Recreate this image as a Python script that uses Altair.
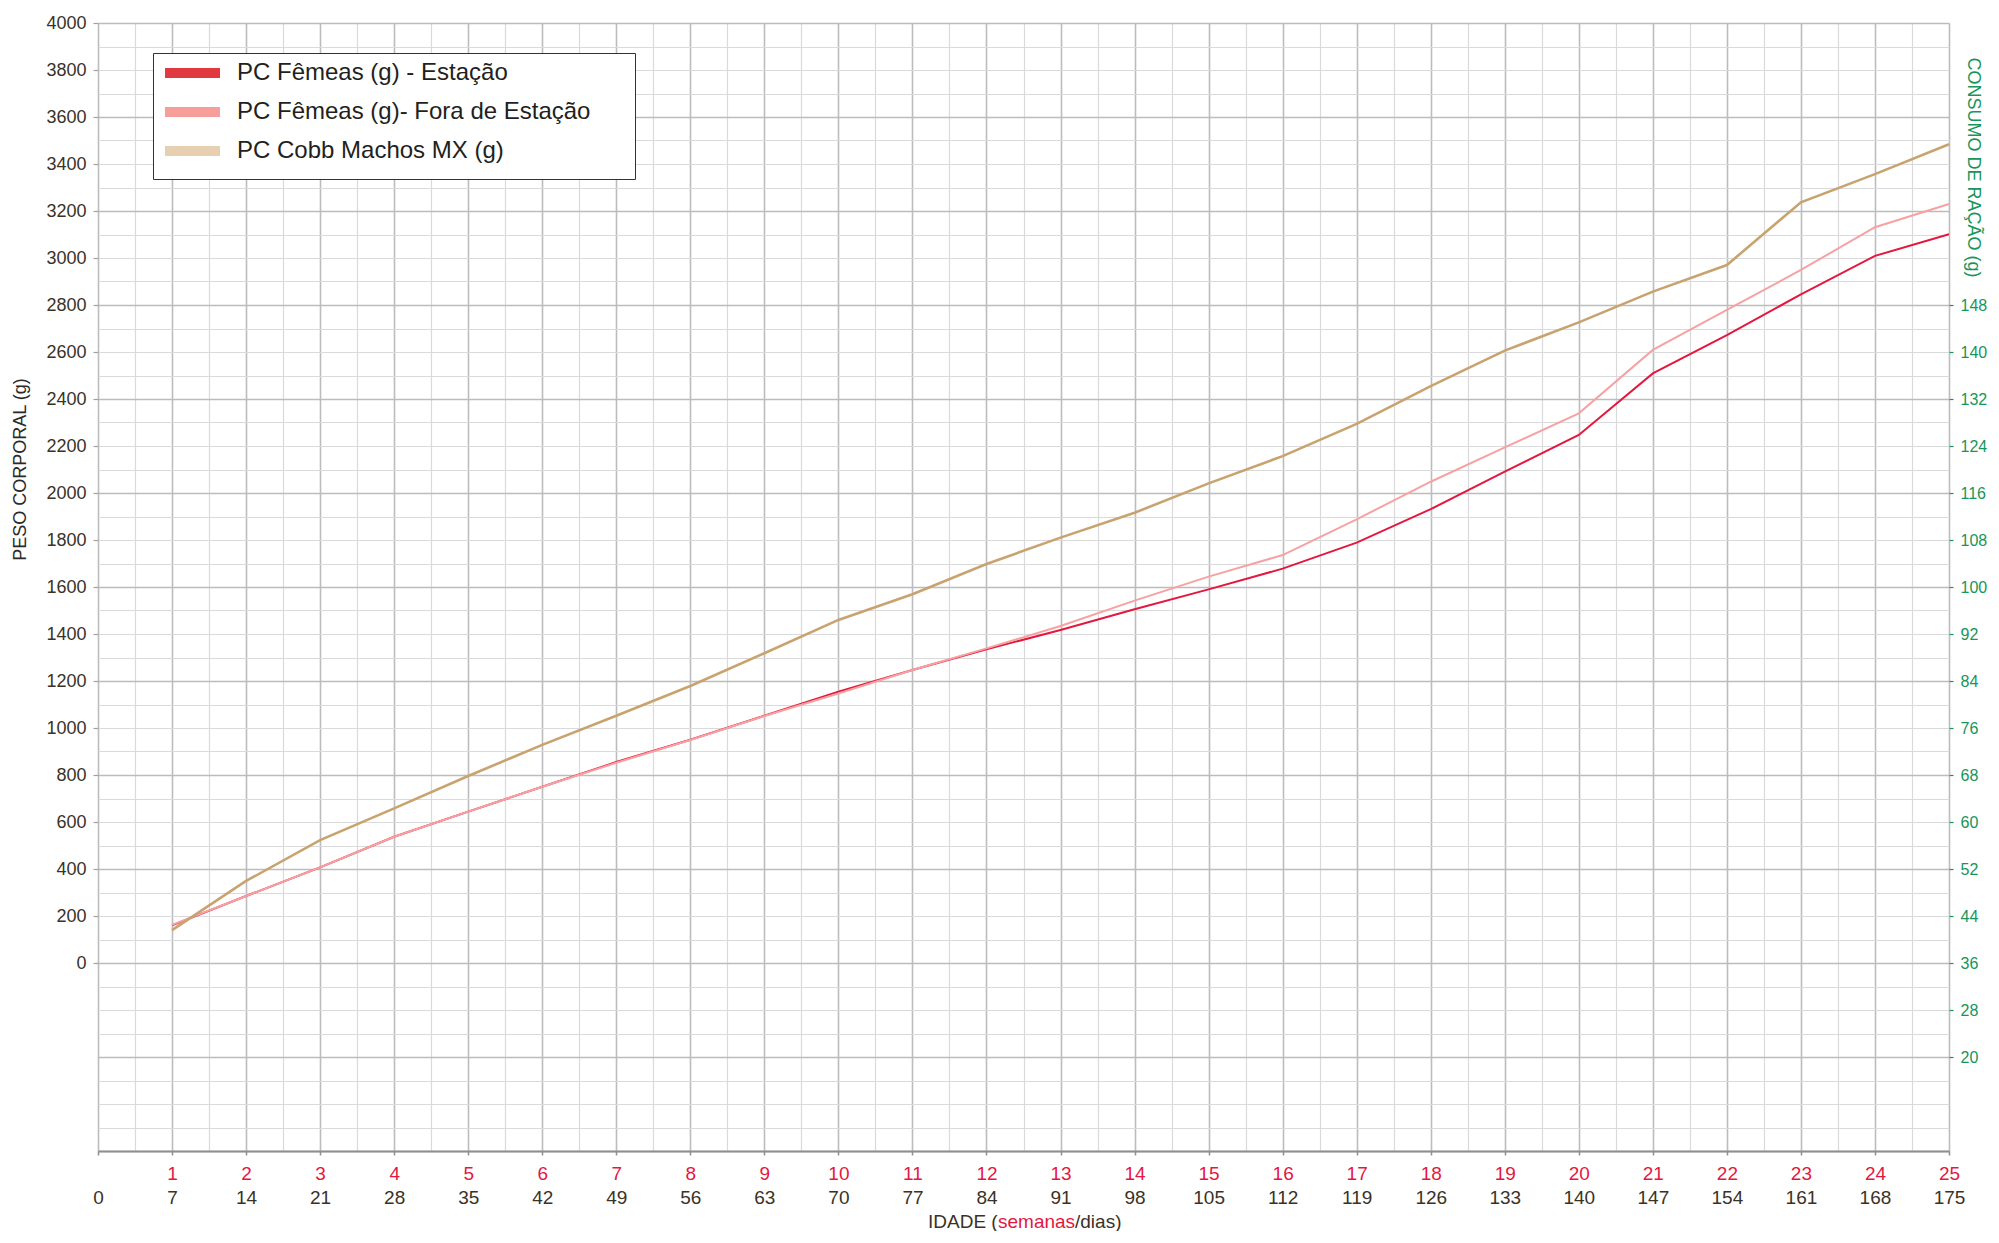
import altair as alt
import pandas as pd

# ---------------- data ----------------
WEEKS = list(range(1, 26))
SERIES = [
    "PC Fêmeas (g) - Estação",
    "PC Fêmeas (g)- Fora de Estação",
    "PC Cobb Machos MX (g)",
]
FEMEAS_ESTACAO = [160, 285, 407, 537, 644, 750, 855, 950, 1052, 1154, 1247, 1335, 1417,
                  1505, 1590, 1678, 1789, 1931, 2091, 2247, 2509, 2672, 2845, 3009, 3101]
FEMEAS_FORA = [162, 285, 407, 537, 644, 750, 852, 949, 1051, 1147, 1247, 1339, 1434,
               1542, 1644, 1736, 1888, 2048, 2194, 2339, 2609, 2779, 2949, 3131, 3230]
MACHOS_MX = [140, 349, 523, 658, 796, 928, 1052, 1179, 1318, 1460, 1569, 1698, 1810,
             1916, 2041, 2157, 2294, 2455, 2606, 2726, 2857, 2970, 3237, 3357, 3484]

DAY_AXIS_WEEKS = list(range(0, 26))          # 0, 7, ..., 175 days
LEFT_TICKS = list(range(0, 4001, 200))
RIGHT_TICKS = list(range(20, 149, 8))        # consumo de ração (g)
GRID_X = [i / 2 for i in range(0, 51)]
GRID_Y = list(range(-800, 4001, 100))
TITLE_PARTS = ["IDADE (", "semanas", "/dias)"]

# right axis: 36 g <-> 0 g peso, 1 g ração = 25 g peso
RIGHT_BASE, RIGHT_FACTOR = 36, 25
RIGHT_POS = [(r - RIGHT_BASE) * RIGHT_FACTOR for r in RIGHT_TICKS]

# ---------------- style ----------------
FONT = "Liberation Sans"
DARK = "#3a3226"
RED = "#e5173f"
GREEN = "#17955a"
MAJOR = "#bcbcc0"
MINOR = "#dadadc"
LINE_COLORS = ["#e4173e", "#f7a2a2", "#c9a36f"]
LINE_WIDTHS = [2.0, 2.0, 2.6]
SWATCH_COLORS = ["#e2383f", "#f59e9a", "#e6d0b1"]

W, H = 1851, 1128

rows = []
for name, vals in zip(SERIES, [FEMEAS_ESTACAO, FEMEAS_FORA, MACHOS_MX]):
    for w, v in zip(WEEKS, vals):
        rows.append({"series": name, "week": w, "value": v})
df = pd.DataFrame(rows)

xs = alt.Scale(domain=[0, 25], nice=False, zero=False)
ys = alt.Scale(domain=[-800, 4000], nice=False, zero=False)

# grid layer
grid = alt.Chart(df).mark_line(opacity=0).encode(
    x=alt.X("week:Q", scale=xs, axis=alt.Axis(
        orient="bottom", values=GRID_X, grid=True, labels=False, ticks=False,
        domain=False, title=None,
        gridColor={"condition": {"test": "datum.value % 1 === 0", "value": MAJOR}, "value": MINOR},
        gridWidth={"condition": {"test": "datum.value % 1 === 0", "value": 1.6}, "value": 1.2},
    )),
    y=alt.Y("value:Q", scale=ys, axis=alt.Axis(
        orient="left", values=GRID_Y, grid=True, labels=False, ticks=False,
        domain=False, title=None,
        gridColor={"condition": {"test": "datum.value % 400 === 0", "value": MAJOR}, "value": MINOR},
        gridWidth={"condition": {"test": "datum.value % 400 === 0", "value": 1.6}, "value": 1.2},
    )),
)

# day labels (black) + left axis
axes1 = alt.Chart(df).mark_line(opacity=0).encode(
    x=alt.X("week:Q", scale=xs, axis=alt.Axis(
        orient="bottom", values=DAY_AXIS_WEEKS, labelExpr="datum.value * 7",
        grid=False, domain=True, domainColor="#8f8f93", domainWidth=2,
        ticks=True, tickColor="#8f8f93", tickSize=4, tickWidth=1.5,
        labelPadding=33, labelFontSize=19, labelColor=DARK, labelFont=FONT,
        labelFlush=False, labelOverlap=False, labelBound=False, title=None,
    )),
    y=alt.Y("value:Q", scale=ys, axis=alt.Axis(
        orient="left", values=LEFT_TICKS, format="d", grid=False, domain=False,
        ticks=True, tickColor="#a0a0a4", tickSize=5, tickWidth=1.2,
        labelPadding=7, labelFontSize=18, labelColor=DARK, labelFont=FONT,
        labelFlush=False, labelOverlap=False, labelBound=False,
        title="PESO CORPORAL (g)", titleX=-78, titleY=446, titleAngle=270,
        titleAlign="center", titleBaseline="middle", titleFontSize=18,
        titleFontWeight="normal", titleColor="#2a2a2a", titleFont=FONT,
    )),
)

# week labels (red) + right axis
axes2 = alt.Chart(df).mark_line(opacity=0).encode(
    x=alt.X("week:Q", scale=xs, axis=alt.Axis(
        orient="bottom", values=WEEKS, format="d", grid=False, domain=False,
        ticks=False, tickSize=0, labelPadding=13, labelFontSize=19,
        labelColor=RED, labelFont=FONT, labelFlush=False, labelOverlap=False,
        labelBound=False, title=None,
    )),
    y=alt.Y("value:Q", scale=ys, axis=alt.Axis(
        orient="right", values=RIGHT_POS,
        labelExpr=f"round(datum.value / {RIGHT_FACTOR} + {RIGHT_BASE})",
        grid=False, domain=False, ticks=True, tickColor=GREEN, tickSize=4,
        tickWidth=1.2, labelPadding=7, labelFontSize=16, labelColor=GREEN,
        labelFont=FONT, labelFlush=False, labelOverlap=False, labelBound=False,
        title="CONSUMO DE RAÇÃO (g)", titleX=23, titleY=144, titleAngle=90,
        titleAlign="center", titleBaseline="middle", titleFontSize=18,
        titleFontWeight="normal", titleColor=GREEN, titleFont=FONT,
    )),
)

line_layers = []
for name, col, sw in zip(SERIES, LINE_COLORS, LINE_WIDTHS):
    line_layers.append(
        alt.Chart(df[df["series"] == name]).mark_line(color=col, strokeWidth=sw).encode(
            x=alt.X("week:Q", scale=xs, axis=None),
            y=alt.Y("value:Q", scale=ys, axis=None),
        )
    )

PAD_CHARS = "\u2800" * 2   # blank braille cells widen the legend box
legend_layer = alt.Chart(df).mark_line().encode(
    x=alt.X("week:Q", scale=xs, axis=None),
    y=alt.Y("value:Q", scale=ys, axis=None),
    color=alt.Color("series:N", scale=alt.Scale(domain=SERIES, range=SWATCH_COLORS),
                    legend=alt.Legend(
                        title=None, orient="none", legendX=55, legendY=30,
                        symbolType="M-1.6,0H9.4", symbolStrokeWidth=10, symbolSize=100,
                        labelFont=FONT, labelFontSize=24, labelColor="#231f20",
                        labelOffset=52, labelLimit=1000, padding=8, rowPadding=-1,
                        strokeColor="#333333", fillColor="white",
                        labelExpr=f"datum.label + '{PAD_CHARS}'",
                    )),
).transform_filter("false")

one = pd.DataFrame({"a": [0]})
title_x = [830, 900, 977]
title_colors = [DARK, RED, DARK]
title_layers = []
for txt, tx, tc in zip(TITLE_PARTS, title_x, title_colors):
    title_layers.append(
        alt.Chart(one).mark_text(text=txt, align="left", baseline="middle",
                                 fontSize=19, font=FONT, color=tc).encode(
            x=alt.value(tx), y=alt.value(H + 71)
        )
    )

chart = alt.layer(grid, axes1, axes2, *line_layers, legend_layer, *title_layers).resolve_axis(
    x="independent", y="independent"
).properties(
    width=W, height=H,
    padding={"left": 90, "top": 15, "right": 42, "bottom": 80},
    autosize=alt.AutoSizeParams(type="none"),
).configure_view(stroke=None).configure_axis(labelFont=FONT, titleFont=FONT)

chart.save("out.html", embed_options={"renderer": "svg", "actions": False})
